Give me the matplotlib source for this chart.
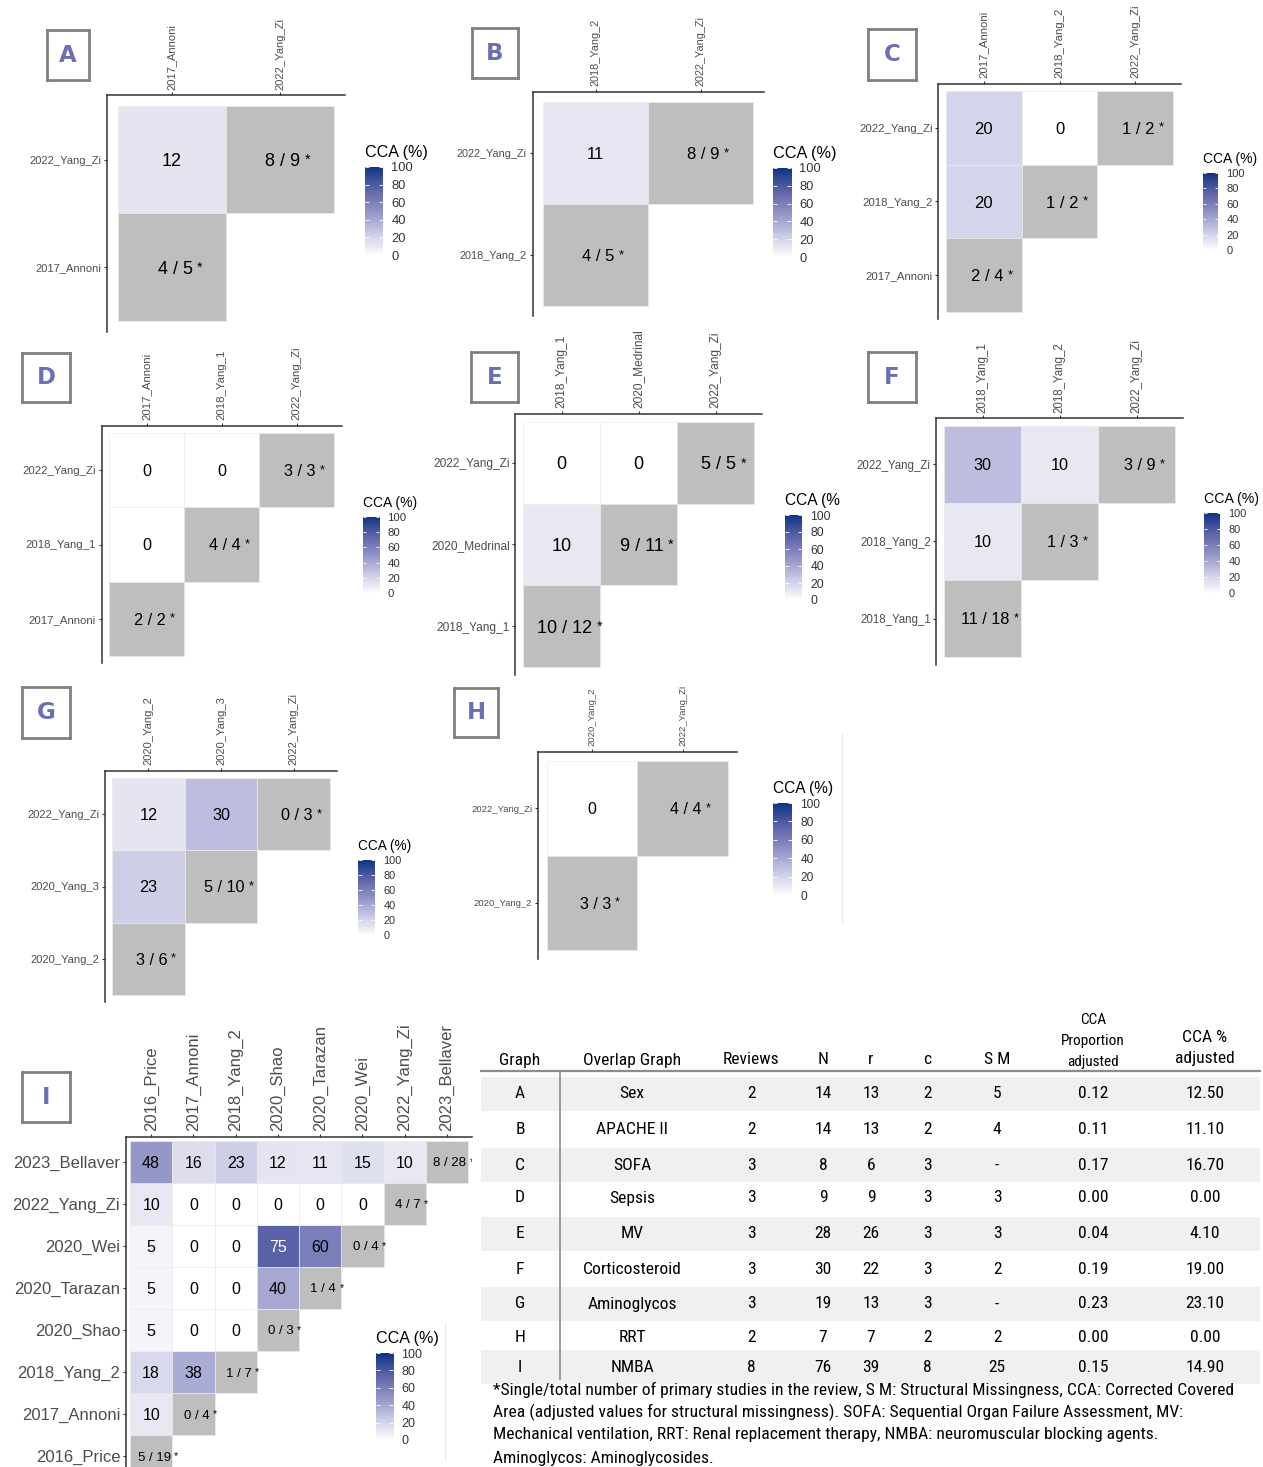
import matplotlib
matplotlib.use("Agg")
import matplotlib.pyplot as plt
import numpy as np
from matplotlib import font_manager
from matplotlib.font_manager import FontProperties
from matplotlib.colors import LinearSegmentedColormap, Normalize
from matplotlib.patches import Rectangle

W, H = 1263, 1467

# ---------------- data ----------------
# each panel: studies (column order), CCA (%) of study k vs earlier studies,
# and the "single / total" label on the diagonal
A_studies = ["2017_Annoni", "2022_Yang_Zi"]
A_cca = [[], [12]]
A_single = ["4 / 5", "8 / 9"]

B_studies = ["2018_Yang_2", "2022_Yang_Zi"]
B_cca = [[], [11]]
B_single = ["4 / 5", "8 / 9"]

C_studies = ["2017_Annoni", "2018_Yang_2", "2022_Yang_Zi"]
C_cca = [[], [20], [20, 0]]
C_single = ["2 / 4", "1 / 2", "1 / 2"]

D_studies = ["2017_Annoni", "2018_Yang_1", "2022_Yang_Zi"]
D_cca = [[], [0], [0, 0]]
D_single = ["2 / 2", "4 / 4", "3 / 3"]

E_studies = ["2018_Yang_1", "2020_Medrinal", "2022_Yang_Zi"]
E_cca = [[], [10], [0, 0]]
E_single = ["10 / 12", "9 / 11", "5 / 5"]

F_studies = ["2018_Yang_1", "2018_Yang_2", "2022_Yang_Zi"]
F_cca = [[], [10], [30, 10]]
F_single = ["11 / 18", "1 / 3", "3 / 9"]

G_studies = ["2020_Yang_2", "2020_Yang_3", "2022_Yang_Zi"]
G_cca = [[], [23], [12, 30]]
G_single = ["3 / 6", "5 / 10", "0 / 3"]

H_studies = ["2020_Yang_2", "2022_Yang_Zi"]
H_cca = [[], [0]]
H_single = ["3 / 3", "4 / 4"]

I_studies = ["2016_Price", "2017_Annoni", "2018_Yang_2", "2020_Shao",
             "2020_Tarazan", "2020_Wei", "2022_Yang_Zi", "2023_Bellaver"]
I_cca = [[], [10], [18, 38], [5, 0, 0], [5, 0, 0, 40], [5, 0, 0, 75, 60],
         [10, 0, 0, 0, 0, 0], [48, 16, 23, 12, 11, 15, 10]]
I_single = ["5 / 19", "0 / 4", "1 / 7", "0 / 3", "1 / 4", "0 / 4", "4 / 7", "8 / 28"]

cbar_ticks = [0, 20, 40, 60, 80, 100]

# summary table
tab_graph = ["A", "B", "C", "D", "E", "F", "G", "H", "I"]
tab_overlap = ["Sex", "APACHE II", "SOFA", "Sepsis", "MV", "Corticosteroid",
               "Aminoglycos", "RRT", "NMBA"]
tab_reviews = [2, 2, 3, 3, 3, 3, 3, 2, 8]
tab_N = [14, 14, 8, 9, 28, 30, 19, 7, 76]
tab_r = [13, 13, 6, 9, 26, 22, 13, 7, 39]
tab_c = [2, 2, 3, 3, 3, 3, 3, 2, 8]
tab_sm = ["5", "4", "-", "3", "3", "2", "-", "2", "25"]
tab_prop = [0.12, 0.11, 0.17, 0.00, 0.04, 0.19, 0.23, 0.00, 0.15]
tab_pct = [12.50, 11.10, 16.70, 0.00, 4.10, 19.00, 23.10, 0.00, 14.90]

footnote = [
    "*Single/total number of primary studies in the review, S M: Structural Missingness, CCA: Corrected Covered",
    "Area (adjusted values for structural missingness). SOFA: Sequential Organ Failure Assessment, MV:",
    "Mechanical ventilation, RRT: Renal replacement therapy, NMBA: neuromuscular blocking agents.",
    "Aminoglycos: Aminoglycosides.",
]

# ---------------- style ----------------
plt.rcParams['font.family'] = ['Liberation Sans', 'DejaVu Sans']


def pick_narrow():
    prefs = ['Liberation Sans Narrow', 'Arial Narrow', 'Roboto Condensed',
             'Noto Sans', 'Open Sans', 'DejaVu Sans']
    ents = [f for f in font_manager.fontManager.ttflist
            if f.style == 'normal' and str(f.weight) in ('400', 'normal', 'regular', 'book')]
    for p in prefs:
        for want in ('condensed', 'semi-condensed'):
            for f in ents:
                narrowish = ('Narrow' in f.name or 'Condensed' in f.name
                             or f.stretch == want)
                if f.name.startswith(p) and narrowish and (f.stretch == want or want == 'condensed'):
                    return f.fname
    return None


nfile = pick_narrow()
if nfile:
    narrow_fp, nscale = FontProperties(fname=nfile), 1.0
else:
    narrow_fp, nscale = FontProperties(family='Liberation Sans'), 0.82

cmap = LinearSegmentedColormap.from_list("cca", [
    (0.0, '#ffffff'), (0.1, '#e8e8f3'), (0.2, '#d4d5ea'), (0.3, '#bdbedf'),
    (0.4, '#a6a8d2'), (0.5, '#9092c5'), (0.6, '#7b7fb9'), (0.75, '#5b63a7'),
    (1.0, '#0f3383')])
norm = Normalize(0, 100)
diag_grey = '#bebebe'
edge = '#ebebeb'

fig = plt.figure(figsize=(W / 100, H / 100), dpi=100)


def px_axes(l, t, r, b):
    return fig.add_axes([l / W, 1 - b / H, (r - l) / W, (b - t) / H])


def heatmap(studies, cca, single, cells, tick, cell, diag=None):
    n = len(studies)
    x0, y0, x1, y1 = cells
    cw, ch = (x1 - x0) / n, (y1 - y0) / n
    ax = px_axes(x0 - 0.1 * cw, y0 - 0.1 * ch, x1 + 0.1 * cw, y1 + 0.1 * ch)
    for k, row in enumerate(cca):
        for j, v in enumerate(row):
            ax.add_patch(Rectangle((j + 0.5, k + 0.5), 1, 1, facecolor=cmap(norm(v)),
                                   edgecolor=edge, lw=0.5))
            ax.text(j + 1, k + 1, str(v), ha='center', va='center_baseline', fontsize=cell,
                    color='white' if v > 70 else 'black')
    dfs = diag or cell
    for k, lab in enumerate(single):
        ax.add_patch(Rectangle((k + 0.5, k + 0.5), 1, 1, facecolor=diag_grey,
                               edgecolor=edge, lw=0.5))
        t = ax.annotate(lab, xy=(k + 1, k + 1), xytext=(3, 0), textcoords='offset pixels',
                        ha='center', va='center_baseline', fontsize=dfs, clip_on=True)
        ax.annotate('*', xy=(1, 1), xycoords=t, xytext=(dfs * 0.35, 0),
                    textcoords='offset pixels', ha='left', va='top', fontsize=dfs * 0.8,
                    clip_on=True)
    ax.set_xlim(0.4, n + 0.6)
    ax.set_ylim(0.4, n + 0.6)
    ax.set_xticks(range(1, n + 1), studies, rotation=90)
    ax.set_yticks(range(1, n + 1), studies)
    ax.xaxis.tick_top()
    ax.tick_params(length=2.5, width=0.8, color='#333333', pad=1.5,
                   labelsize=tick, labelcolor='#4d4d4d')
    for s in ['bottom', 'right']:
        ax.spines[s].set_visible(False)
    for s in ['top', 'left']:
        ax.spines[s].set_color('#333333')
        ax.spines[s].set_linewidth(1.1)
    ax.set_facecolor('none')
    return ax


def colorbar(bar, bar_tick, bar_title, clip_title=None):
    l, t, r, b = bar
    cax = px_axes(l, t, r, b)
    grad = np.linspace(0, 100, 256).reshape(-1, 1)
    cax.imshow(grad, cmap=cmap, vmin=0, vmax=100, aspect='auto', origin='lower',
               extent=(0, 1, 0, 100))
    cax.set_xlim(0, 1)
    cax.set_ylim(0, 100)
    cax.set_xticks([])
    cax.set_yticks(cbar_ticks)
    cax.yaxis.tick_right()
    cax.tick_params(axis='y', direction='in', length=(r - l) * 0.15, width=0.6,
                    color='white', left=True, right=True, labelsize=bar_tick,
                    labelcolor='#333333', pad=6)
    for s in cax.spines.values():
        s.set_visible(False)
    tt = cax.annotate('CCA (%)', xy=(0, 1), xycoords='axes fraction', xytext=(0, 7),
                      textcoords='offset pixels', ha='left', va='bottom', fontsize=bar_title)
    if clip_title:
        tt.set_clip_path(Rectangle((0, 0), clip_title / W, 1, transform=fig.transFigure))


def letter_box(box, letter):
    l, t, r, b = box
    bx = px_axes(l, t, r, b)
    bx.set_xticks([])
    bx.set_yticks([])
    for s in bx.spines.values():
        s.set_color('#808080')
        s.set_linewidth(2.0)
    bx.text(0.5, 0.5, letter, ha='center', va='center', fontsize=16.5,
            fontweight='bold', color='#6b6fb3', family='DejaVu Sans')


panels = [
    ("A", A_studies, A_cca, A_single, dict(cells=(118, 106, 334, 321), box=(47, 30, 89, 80),
      bar=(365, 167, 383, 255), tick=8.0, cell=13.0, bar_tick=9.3, bar_title=11.6)),
    ("B", B_studies, B_cca, B_single, dict(cells=(543, 102, 753, 306), box=(472, 28, 518, 78),
      bar=(773, 168, 791, 257), tick=7.8, cell=12.0, bar_tick=9.3, bar_title=11.7)),
    ("C", C_studies, C_cca, C_single, dict(cells=(946, 91, 1173, 312), box=(868, 29, 916, 80),
      bar=(1203, 173, 1218, 250), tick=8.2, cell=12.0, bar_tick=8.0, bar_title=10.0)),
    ("D", D_studies, D_cca, D_single, dict(cells=(109, 433, 334, 656), box=(22, 353, 70, 402),
      bar=(363, 517, 379, 593), tick=8.2, cell=11.7, bar_tick=8.2, bar_title=10.0)),
    ("E", E_studies, E_cca, E_single, dict(cells=(523, 422, 754, 667), box=(471, 352, 518, 402),
      bar=(785, 515, 802, 600), tick=8.6, cell=13.0, bar_tick=8.7, bar_title=11.2, clip_title=840)),
    ("F", F_studies, F_cca, F_single, dict(cells=(944, 426, 1175, 657), box=(868, 352, 916, 402),
      bar=(1204, 513, 1220, 593), tick=8.3, cell=11.7, bar_tick=7.9, bar_title=10.2)),
    ("G", G_studies, G_cca, G_single, dict(cells=(112, 778, 330, 995), box=(22, 687, 70, 738),
      bar=(358, 860, 375, 935), tick=8.0, cell=11.7, bar_tick=7.9, bar_title=9.8)),
    ("H", H_studies, H_cca, H_single, dict(cells=(547, 761, 728, 950), box=(454, 688, 498, 737),
      bar=(773, 803, 792, 895), tick=6.8, cell=11.5, bar_tick=8.6, bar_title=11.2)),
    ("I", I_studies, I_cca, I_single, dict(cells=(130, 1141, 468, 1477), box=(22, 1072, 70, 1122),
      bar=(376, 1353, 393, 1440), tick=12.0, cell=11.5, diag=9.5, bar_tick=9.0, bar_title=11.6)),
]

for letter, studies, cca, single, lay in panels:
    heatmap(studies, cca, single, lay['cells'], lay['tick'], lay['cell'], lay.get('diag'))
    colorbar(lay['bar'], lay['bar_tick'], lay['bar_title'], lay.get('clip_title'))
    letter_box(lay['box'], letter)

# faint image edges
fig.add_artist(plt.Line2D([842 / W, 842 / W], [1 - 922 / H, 1 - 734 / H], color='#e8e8e8', lw=0.8))
fig.add_artist(plt.Line2D([445 / W, 445 / W], [1 - 1460 / H, 1 - 1323 / H], color='#e8e8e8', lw=0.8))

# ---------------- table ----------------
tx = px_axes(480, 1005, 1263, 1467)
tx.set_xlim(480, 1263)
tx.set_ylim(1467, 1005)
tx.axis('off')

col_x = [520, 632, 751, 823, 871, 927, 997, 1093, 1205]
row_y = [1094, 1129, 1165, 1198, 1234, 1269, 1304, 1337, 1367]
fs = 12.6 * nscale

for i, y in enumerate(row_y):
    if i % 2 == 0:
        tx.add_patch(Rectangle((481, y - 17), 779, 34, color='#f0f0f0', lw=0))


def ttext(x, y, s, size, ha='center'):
    tx.text(x, y, s, ha=ha, va='center', fontproperties=narrow_fp, fontsize=size)


heads = ["Graph", "Overlap Graph", "Reviews", "N", "r", "c", "S M"]
for x, h in zip(col_x, heads):
    ttext(x, 1060, h, fs)
for y, h in zip([1020, 1041, 1062], ["CCA", "Proportion", "adjusted"]):
    ttext(col_x[7], y, h, 11 * nscale)
for y, h in zip([1037, 1059], ["CCA %", "adjusted"]):
    ttext(col_x[8], y, h, fs)

tx.plot([481, 1260], [1071, 1071], color='#8c8c8c', lw=1.6)
tx.plot([560, 560], [1072, 1379], color='#8c8c8c', lw=1.2)

for i, y in enumerate(row_y):
    row = [tab_graph[i], tab_overlap[i], tab_reviews[i], tab_N[i], tab_r[i], tab_c[i],
           tab_sm[i], f"{tab_prop[i]:.2f}", f"{tab_pct[i]:.2f}"]
    for x, v in zip(col_x, row):
        ttext(x, y, str(v), fs)

for y, line in zip([1390, 1412, 1435, 1458], footnote):
    ttext(493, y, line, fs, ha='left')

fig.savefig("out.png", dpi=100)
